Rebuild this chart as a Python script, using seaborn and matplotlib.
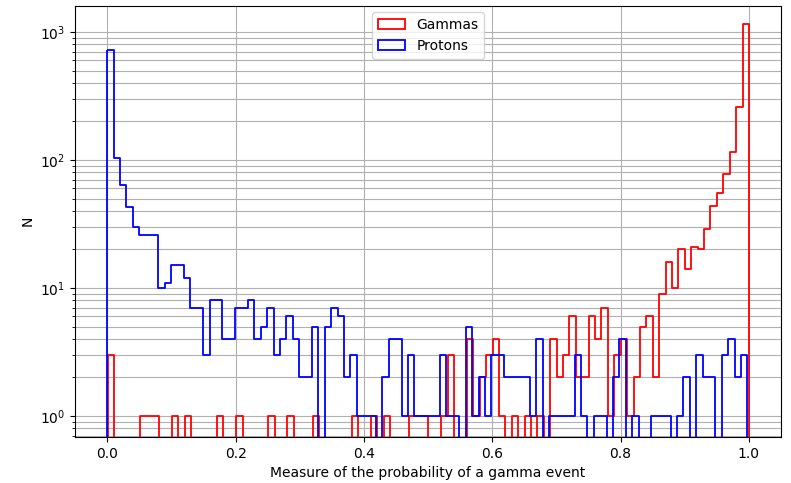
import numpy as np
import matplotlib
matplotlib.use("Agg")
import matplotlib.pyplot as plt
import seaborn as sns

N_BINS = 100
gamma_range = (0.001, 1.0)
proton_range = (0.0, 0.9975)

gamma_counts = [
    3, 0, 0, 0, 0, 1, 1, 1, 0, 0,
    1, 0, 1, 0, 0, 0, 0, 1, 0, 0,
    1, 0, 0, 0, 0, 1, 0, 0, 1, 0,
    0, 0, 1, 0, 0, 0, 0, 0, 1, 0,
    0, 1, 0, 1, 0, 0, 0, 1, 1, 1,
    0, 0, 1, 3, 0, 0, 4, 1, 2, 3,
    4, 1, 0, 1, 0, 1, 0, 1, 0, 4,
    2, 3, 6, 2, 2, 6, 4, 7, 1, 3,
    4, 1, 2, 5, 6, 2, 9, 16, 10, 20,
    14, 21, 20, 29, 44, 55, 78, 115, 261, 1150,
]
proton_counts = [
    720, 104, 64, 43, 30, 26, 26, 26, 10, 11,
    15, 15, 12, 7, 7, 3, 8, 8, 4, 4,
    7, 7, 8, 4, 5, 7, 3, 4, 6, 4,
    2, 2, 5, 0, 5, 7, 6, 2, 3, 1,
    1, 1, 0, 2, 4, 4, 1, 3, 1, 1,
    1, 1, 3, 1, 1, 0, 5, 1, 2, 1,
    3, 3, 2, 2, 2, 2, 1, 4, 0, 1,
    1, 1, 1, 3, 1, 0, 1, 1, 0, 2,
    4, 0, 1, 0, 0, 1, 1, 1, 0, 1,
    2, 0, 3, 2, 2, 0, 3, 4, 2, 3,
]
series_labels = ["Gammas", "Protons"]
series_colors = ["red", "blue"]

fig, ax = plt.subplots(figsize=(7.91, 4.83), dpi=100)
fig.subplots_adjust(left=75.2 / 791, right=781 / 791, top=1 - 5.5 / 483, bottom=1 - 437 / 483)
ax.set_yscale("log")

for counts, rng, color, label in zip(
    [gamma_counts, proton_counts], [gamma_range, proton_range], series_colors, series_labels
):
    edges = np.linspace(rng[0], rng[1], N_BINS + 1)
    centers = (edges[:-1] + edges[1:]) / 2
    sns.histplot(
        x=centers, weights=np.asarray(counts, dtype=float), bins=N_BINS, binrange=rng,
        element="step", fill=True,
        color=color, facecolor="none", edgecolor=color, linewidth=1.3,
        label=label, ax=ax,
    )

ax.set_xlim(-0.05, 1.05)
ax.set_ylim(0.685, 1611)
ax.set_axisbelow(True)
ax.grid(True, which="both", color="#b0b0b0", linewidth=0.8)
ax.set_xlabel("Measure of the probability of a gamma event")
ax.set_ylabel("N")
ax.legend(loc="upper center")

fig.savefig("out.png", dpi=100)
